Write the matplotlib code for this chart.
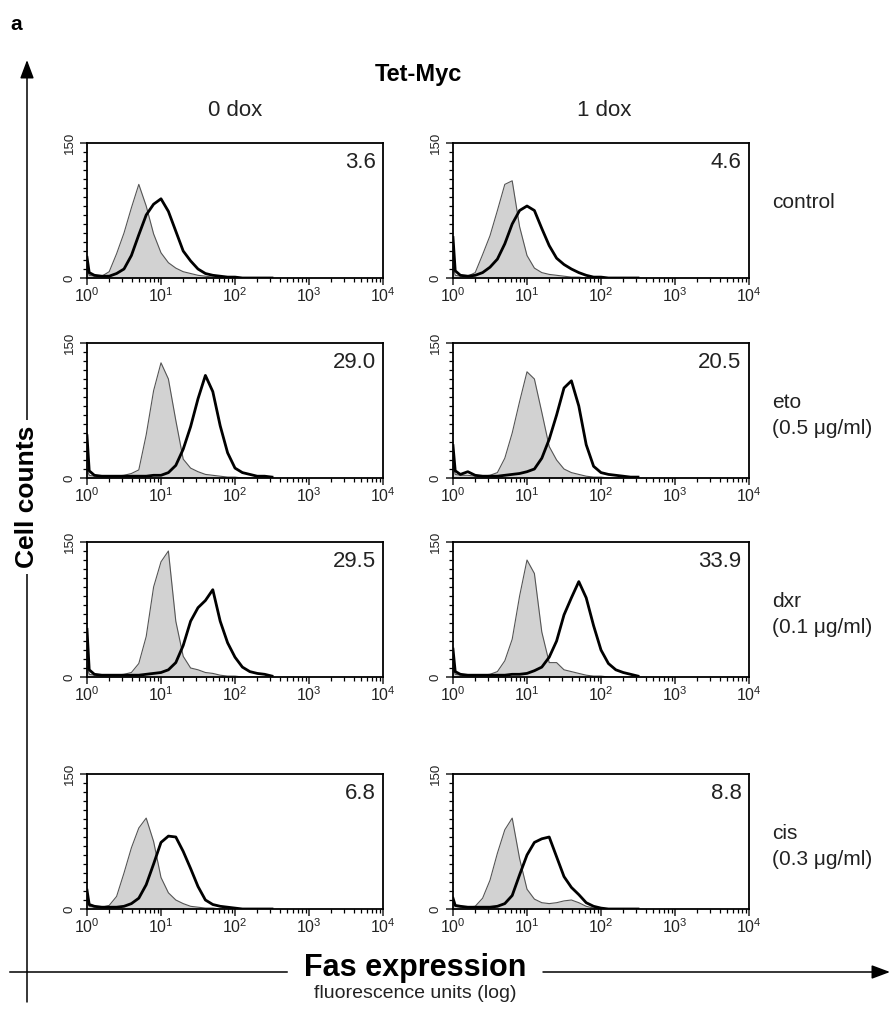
import numpy as np
import matplotlib.pyplot as plt
from matplotlib.ticker import FixedLocator, FuncFormatter, LogLocator, NullFormatter

plt.rcParams['font.family'] = ['Liberation Sans', 'DejaVu Sans']
plt.rcParams['mathtext.fontset'] = 'custom'
plt.rcParams['mathtext.rm'] = 'Liberation Sans'
plt.rcParams['mathtext.it'] = 'Liberation Sans:italic'

# ---------------------------------------------------------------------------
# Data: histogram counts sampled at log10(fluorescence units)
# ---------------------------------------------------------------------------

LOG_BINS = [0.0, 0.03, 0.1, 0.2, 0.3, 0.4, 0.5, 0.6, 0.7, 0.8, 0.9, 1.0, 1.1,
            1.2, 1.3, 1.4, 1.5, 1.6, 1.7, 1.8, 1.9, 2.0, 2.1, 2.2, 2.3, 2.4, 2.5]

DOX_LABELS = ["0 dox", "1 dox"]
TREATMENTS = ["control", "eto\n(0.5 \u03bcg/ml)", "dxr\n(0.1 \u03bcg/ml)", "cis\n(0.3 \u03bcg/ml)"]
PERCENT_FAS = [["3.6", "4.6"], ["29.0", "20.5"], ["29.5", "33.9"], ["6.8", "8.8"]]

# grey filled = isotype control, black line = Fas staining
ISO_CONTROL_0 = [10, 3, 2, 2, 7, 27, 50, 78, 104, 80, 49, 28, 17, 11, 7, 5, 3, 2, 1, 1, 0, 0, 0, 0, 0, 0, 0]
FAS_CONTROL_0 = [23, 6, 3, 2, 2, 5, 10, 25, 48, 70, 82, 88, 74, 52, 30, 19, 10, 5, 3, 2, 1, 1, 0, 0, 0, 0, 0]
ISO_CONTROL_1 = [12, 3, 2, 2, 6, 26, 47, 75, 104, 108, 57, 25, 11, 6, 4, 3, 2, 1, 1, 0, 0, 0, 0, 0, 0, 0, 0]
FAS_CONTROL_1 = [45, 8, 3, 2, 3, 6, 12, 21, 38, 60, 75, 80, 75, 55, 36, 22, 15, 10, 6, 3, 1, 1, 0, 0, 0, 0, 0]

ISO_ETO_0 = [10, 3, 2, 2, 2, 2, 3, 5, 9, 48, 97, 128, 110, 64, 21, 11, 7, 4, 3, 2, 1, 1, 0, 0, 0, 0, 0]
FAS_ETO_0 = [47, 8, 3, 2, 2, 2, 2, 2, 2, 2, 3, 3, 6, 14, 32, 57, 88, 114, 96, 58, 28, 11, 6, 4, 2, 2, 1]
ISO_ETO_1 = [14, 4, 3, 3, 2, 2, 3, 6, 22, 50, 85, 118, 110, 73, 35, 20, 10, 6, 4, 2, 1, 1, 0, 0, 0, 0, 0]
FAS_ETO_1 = [36, 8, 4, 7, 3, 2, 2, 2, 3, 4, 5, 7, 10, 22, 43, 70, 100, 108, 80, 37, 13, 6, 4, 3, 2, 1, 1]

ISO_DXR_0 = [12, 3, 2, 2, 2, 2, 3, 5, 15, 45, 100, 128, 140, 62, 23, 10, 8, 5, 4, 2, 1, 1, 0, 0, 0, 0, 0]
FAS_DXR_0 = [53, 8, 3, 2, 2, 2, 2, 2, 2, 3, 4, 5, 8, 16, 35, 62, 77, 85, 97, 62, 38, 22, 11, 6, 4, 3, 1]
ISO_DXR_1 = [10, 3, 2, 2, 2, 2, 3, 6, 18, 42, 90, 130, 115, 50, 16, 16, 8, 6, 4, 2, 1, 1, 0, 0, 0, 0, 0]
FAS_DXR_1 = [31, 6, 3, 2, 2, 2, 2, 2, 2, 3, 3, 4, 7, 11, 22, 40, 69, 88, 106, 88, 57, 30, 15, 8, 5, 3, 1]

ISO_CIS_0 = [10, 3, 2, 2, 4, 14, 40, 68, 90, 101, 75, 35, 18, 10, 6, 3, 2, 1, 1, 0, 0, 0, 0, 0, 0, 0, 0]
FAS_CIS_0 = [21, 5, 3, 2, 2, 2, 3, 6, 12, 27, 50, 74, 81, 80, 64, 45, 25, 10, 5, 3, 2, 1, 0, 0, 0, 0, 0]
ISO_CIS_1 = [10, 3, 2, 2, 3, 12, 32, 62, 88, 101, 56, 22, 11, 7, 6, 7, 9, 10, 7, 3, 1, 1, 0, 0, 0, 0, 0]
FAS_CIS_1 = [12, 4, 3, 2, 2, 2, 2, 3, 6, 15, 38, 60, 74, 78, 80, 58, 36, 24, 16, 7, 3, 1, 0, 0, 0, 0, 0]

PANELS = [
    [(ISO_CONTROL_0, FAS_CONTROL_0), (ISO_CONTROL_1, FAS_CONTROL_1)],
    [(ISO_ETO_0, FAS_ETO_0), (ISO_ETO_1, FAS_ETO_1)],
    [(ISO_DXR_0, FAS_DXR_0), (ISO_DXR_1, FAS_DXR_1)],
    [(ISO_CIS_0, FAS_CIS_0), (ISO_CIS_1, FAS_CIS_1)],
]

# ---------------------------------------------------------------------------
# Layout (pixels of the 896 x 1009 figure)
# ---------------------------------------------------------------------------

W, H = 896, 1009
COL_LEFT = [87, 453]
COL_WIDTH = 296
ROW_TOP = [143, 343, 542, 774]
ROW_HEIGHT = 135
TEXT = "#222222"

fig = plt.figure(figsize=(W / 100, H / 100), dpi=100)

# overlay in pixel coordinates for the arrows and free text
bg = fig.add_axes([0, 0, 1, 1])
bg.set_xlim(0, W)
bg.set_ylim(H, 0)
bg.axis("off")

fluor = 10 ** np.array(LOG_BINS)

for r, row in enumerate(PANELS):
    for c, (iso, fas) in enumerate(row):
        left = COL_LEFT[c] / W
        bottom = 1 - (ROW_TOP[r] + ROW_HEIGHT) / H
        ax = fig.add_axes([left, bottom, COL_WIDTH / W, ROW_HEIGHT / H])
        ax.fill_between(fluor, iso, color="#d2d2d2", lw=0, zorder=1)
        ax.plot(fluor, iso, color="#555555", lw=0.8, zorder=2)
        ax.plot(fluor, fas, color="black", lw=2.0, zorder=3)

        ax.set_xscale("log")
        ax.set_xlim(1, 1e4)
        ax.set_ylim(0, 150)
        ax.xaxis.set_major_locator(FixedLocator([1, 10, 100, 1000, 10000]))
        ax.xaxis.set_major_formatter(
            FuncFormatter(lambda v, p: f"$10^{{{int(round(np.log10(v)))}}}$"))
        ax.xaxis.set_minor_locator(LogLocator(base=10, subs=range(2, 10), numticks=20))
        ax.xaxis.set_minor_formatter(NullFormatter())
        ax.set_yticks([0, 150])
        ax.set_yticks(range(10, 150, 10), minor=True)
        ax.set_yticklabels(["0", "150"], rotation=90, va="center", fontsize=9.5)
        ax.tick_params(axis="x", which="major", direction="out", length=5, width=1.1,
                       labelsize=11.5, pad=1, colors=TEXT)
        ax.tick_params(axis="both", which="minor", direction="out", length=3, width=0.9)
        ax.tick_params(axis="y", which="major", direction="out", length=5, width=1.1,
                       pad=3, colors=TEXT)
        for s in ax.spines.values():
            s.set_linewidth(1.3)

        ax.text(0.975, 0.93, PERCENT_FAS[r][c], transform=ax.transAxes,
                ha="right", va="top", fontsize=16, color=TEXT)

    bg.text(772, ROW_TOP[r] + 50, TREATMENTS[r], ha="left", va="top",
            fontsize=15, color=TEXT, linespacing=1.45)

# headers
bg.text(10, 25, "a", fontsize=15, fontweight="bold", ha="left", va="center")
bg.text(418, 74, "Tet-Myc", fontsize=17, fontweight="bold", ha="center", va="center")
for c, label in enumerate(DOX_LABELS):
    bg.text([235, 604][c], 110, label, fontsize=16, ha="center", va="center", color=TEXT)

# axis arrows
arrow = dict(arrowstyle="-|>,head_length=0.8,head_width=0.3", color="black",
             lw=1.1, shrinkA=0, shrinkB=0, mutation_scale=14)
bg.annotate("", xy=(27, 60), xytext=(27, 1002), arrowprops=arrow)
bg.text(27, 497, "Cell counts", rotation=90, fontsize=19, fontweight="bold",
        ha="center", va="center",
        bbox=dict(facecolor="white", edgecolor="none", pad=4))
bg.plot([10, 287], [972, 972], color="black", lw=1.1)
bg.annotate("", xy=(890, 972), xytext=(543, 972), arrowprops=arrow)
bg.text(415, 968, "Fas expression", fontsize=22, fontweight="bold",
        ha="center", va="center")
bg.text(415, 993, "fluorescence units (log)", fontsize=14,
        ha="center", va="center", color=TEXT)

fig.savefig("out.png", dpi=100)
